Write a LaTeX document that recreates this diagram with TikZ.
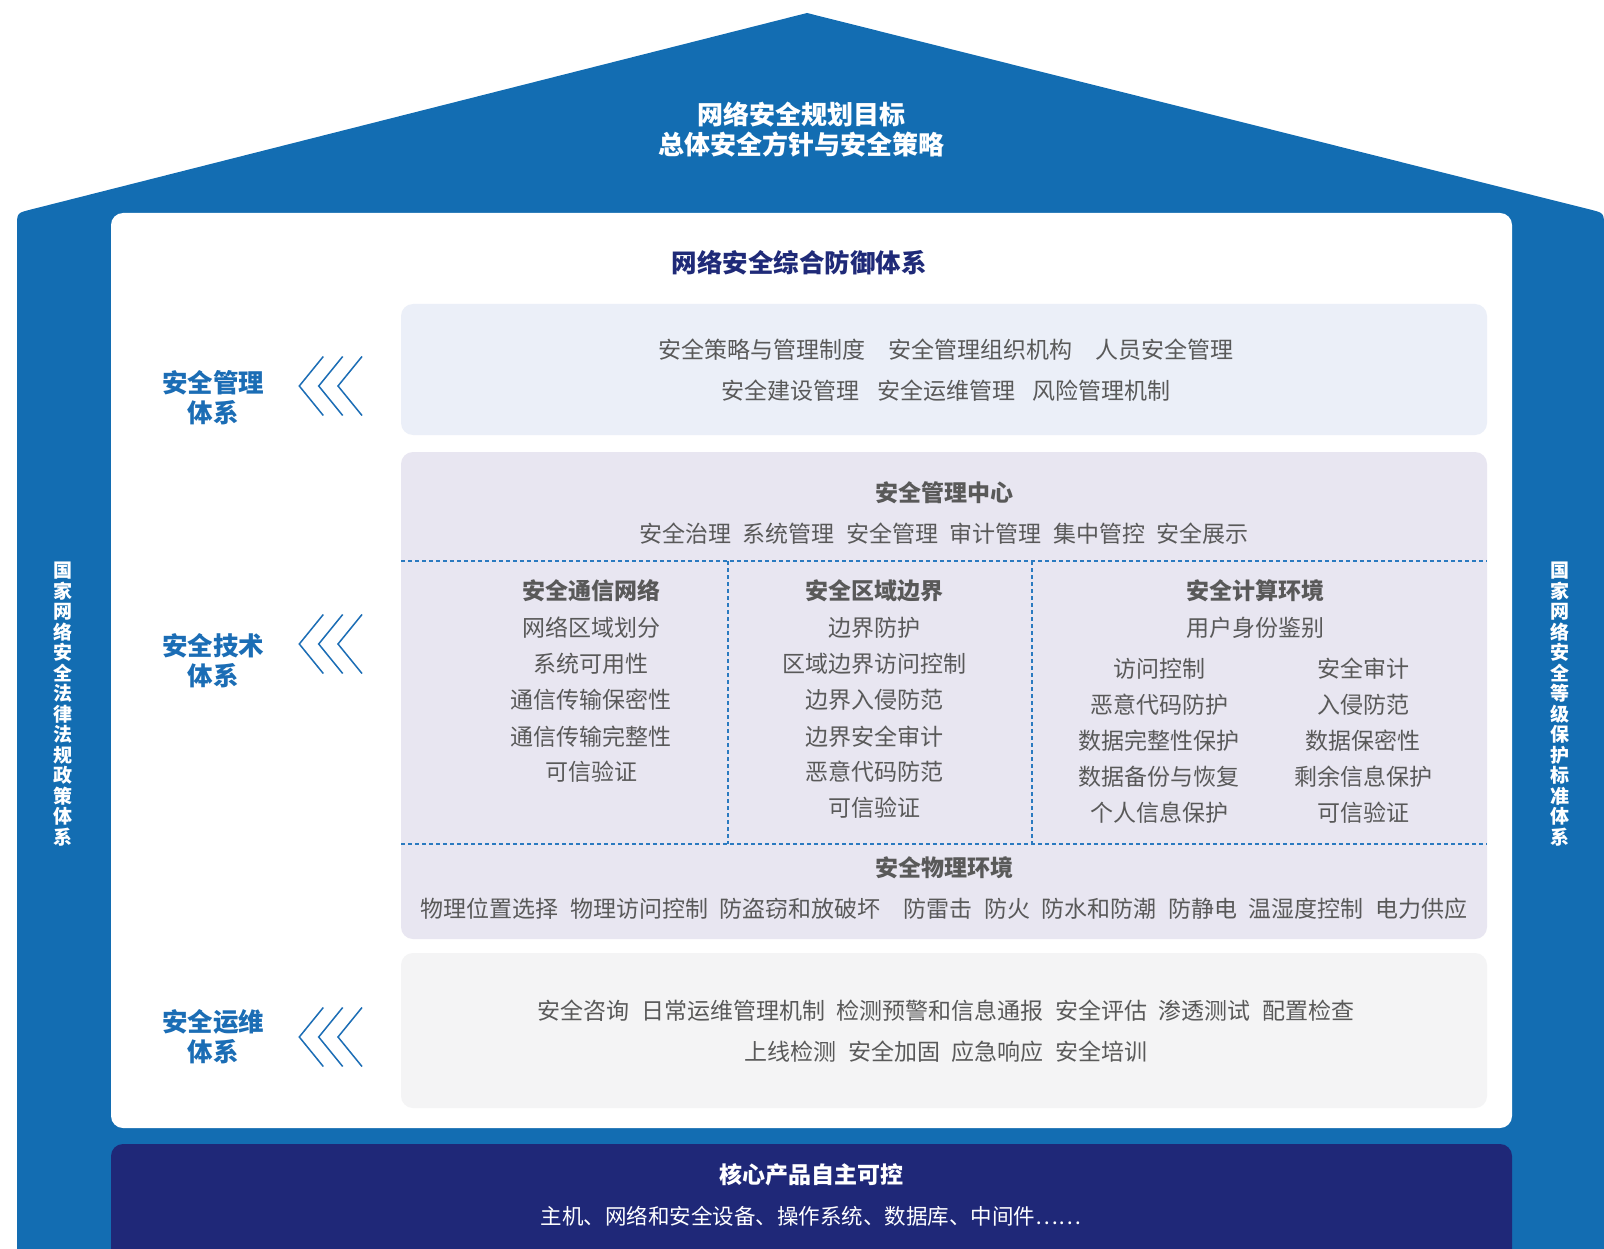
\documentclass[tikz,border=0pt]{standalone}
\usepackage{fontspec}
\setmainfont{Noto Sans CJK SC}
\definecolor{houseblue}{HTML}{136DB2}
\definecolor{navyband}{HTML}{1F2878}
\definecolor{titlenavy}{HTML}{1F2A78}
\definecolor{labelblue}{HTML}{1B6DB5}
\definecolor{textgray}{HTML}{595959}
\definecolor{boxA}{HTML}{EBEFF8}
\definecolor{boxB}{HTML}{E8E6F1}
\definecolor{boxC}{HTML}{F4F4F5}
\definecolor{dashblue}{HTML}{2A7AC0}
\newcommand\gh{\hspace{0.5em}}
\newcommand\gf{\hspace{1em}}
\newcommand\gt{\hspace{0.75em}}
\begin{document}
\begin{tikzpicture}[x=1pt,y=-1pt,
  txt/.style={inner sep=0pt, text=textgray, font=\fontsize{23}{23}\selectfont},
  hd/.style={inner sep=0pt, text=textgray, font=\fontsize{23}{23}\selectfont\bfseries},
  lbl/.style={inner sep=0pt, text=labelblue, align=center, font=\fontsize{25.5}{30}\selectfont\bfseries},
  sidetxt/.style={inner sep=0pt, text=white, align=center, font=\fontsize{19}{20.5}\selectfont\bfseries},
  chev/.style={draw=labelblue, line width=1.5pt},
  dsh/.style={draw=dashblue, line width=1.2pt, dash pattern=on 4pt off 3pt}]
\useasboundingbox (0,0) rectangle (1604,1249);
% house
\fill[houseblue] (17,1320) -- (17,227) .. controls (17,213) .. (30.6,209.6) -- (807,13) -- (1590.4,209.6) .. controls (1604,213) .. (1604,227) -- (1604,1320) -- cycle;
\fill[white, rounded corners=12] (111,213) rectangle (1512,1128);
\fill[navyband, rounded corners=12] (111,1144) rectangle (1512,1300);
% inner boxes
\fill[boxA, rounded corners=12] (401,304) rectangle (1487,435);
\fill[boxB, rounded corners=12] (401,452) rectangle (1487,939);
\fill[boxC, rounded corners=12] (401,953) rectangle (1487,1108);
% dashed separators
\coordinate (hl1) at (401,561); \coordinate (hr1) at (1487,561);
\coordinate (hl2) at (401,844); \coordinate (hr2) at (1487,844);
\coordinate (v1t) at (728,561); \coordinate (v1b) at (728,844);
\coordinate (v2t) at (1032,561); \coordinate (v2b) at (1032,844);
\draw[dsh] (hl1) -- (hr1);
\draw[dsh] (hl2) -- (hr2);
\draw[dsh] (v1t) -- (v1b);
\draw[dsh] (v2t) -- (v2b);
% roof title
\node[inner sep=0pt, text=white, align=center, font=\fontsize{26}{30}\selectfont\bfseries] (roof) at (801,130) {网络安全规划目标\\总体安全方针与安全策略};
% side texts
\node[sidetxt] (lside) at (63,704) {国\\家\\网\\络\\安\\全\\法\\律\\法\\规\\政\\策\\体\\系};
\node[sidetxt] (rside) at (1560,704) {国\\家\\网\\络\\安\\全\\等\\级\\保\\护\\标\\准\\体\\系};
% panel title
\node[inner sep=0pt, text=titlenavy, font=\fontsize{25.5}{26}\selectfont\bfseries] (ptitle) at (799,263) {网络安全综合防御体系};
% left labels
\node[lbl] (l1) at (213,398) {安全管理\\体系};
\node[lbl] (l2) at (213,661) {安全技术\\体系};
\node[lbl] (l3) at (213,1037) {安全运维\\体系};
% chevrons
\foreach \ty in {386,644,1037}{
  \foreach \tx in {299.3,318.7,338}{
    \draw[chev] (\tx+24,\ty-29.5) -- (\tx,\ty) -- (\tx+24,\ty+29.5);
  }
}
% box 1
\node[txt] (m1) at (946,350) {安全策略与管理制度\gf 安全管理组织机构\gf 人员安全管理};
\node[txt] (m2) at (946,391) {安全建设管理\gt 安全运维管理\gt 风险管理机制};
% box 2 top
\node[hd] (c0) at (944,493) {安全管理中心};
\node[txt] (c1) at (944,534) {安全治理\gh 系统管理\gh 安全管理\gh 审计管理\gh 集中管控\gh 安全展示};
% column 1
\node[hd] (a0) at (591,591) {安全通信网络};
\node[txt] (a1) at (591,628) {网络区域划分};
\node[txt] (a2) at (591,664) {系统可用性};
\node[txt] (a3) at (591,700) {通信传输保密性};
\node[txt] (a4) at (591,737) {通信传输完整性};
\node[txt] (a5) at (591,772) {可信验证};
% column 2
\node[hd] (b0) at (874,591) {安全区域边界};
\node[txt] (b1) at (874,628) {边界防护};
\node[txt] (b2) at (874,664) {区域边界访问控制};
\node[txt] (b3) at (874,700) {边界入侵防范};
\node[txt] (b4) at (874,737) {边界安全审计};
\node[txt] (b5) at (874,772) {恶意代码防范};
\node[txt] (b6) at (874,808) {可信验证};
% column 3
\node[hd] (d0) at (1255,591) {安全计算环境};
\node[txt] (d1) at (1255,628) {用户身份鉴别};
\node[txt] (e1) at (1159,669) {访问控制};
\node[txt] (e2) at (1159,705) {恶意代码防护};
\node[txt] (e3) at (1159,741) {数据完整性保护};
\node[txt] (e4) at (1159,777) {数据备份与恢复};
\node[txt] (e5) at (1159,813) {个人信息保护};
\node[txt] (f1) at (1363,669) {安全审计};
\node[txt] (f2) at (1363,705) {入侵防范};
\node[txt] (f3) at (1363,741) {数据保密性};
\node[txt] (f4) at (1363,777) {剩余信息保护};
\node[txt] (f5) at (1363,813) {可信验证};
% physical
\node[hd] (p0) at (944,868) {安全物理环境};
\node[txt] (p1) at (944,909) {物理位置选择\gh 物理访问控制\gh 防盗窃和放破坏\gf 防雷击\gh 防火\gh 防水和防潮\gh 防静电\gh 温湿度控制\gh 电力供应};
% box 3
\node[txt] (o1) at (946,1011) {安全咨询\gh 日常运维管理机制\gh 检测预警和信息通报\gh 安全评估\gh 渗透测试\gh 配置检查};
\node[txt] (o2) at (946,1052) {上线检测\gh 安全加固\gh 应急响应\gh 安全培训};
% bottom band
\node[inner sep=0pt, text=white, font=\fontsize{23}{23}\selectfont\bfseries] (n0) at (811,1175) {核心产品自主可控};
\node[inner sep=0pt, text=white, font=\fontsize{21.5}{22}\selectfont] (n1) at (811,1216) {主机、网络和安全设备、操作系统、数据库、中间件……};
\end{tikzpicture}
\end{document}
